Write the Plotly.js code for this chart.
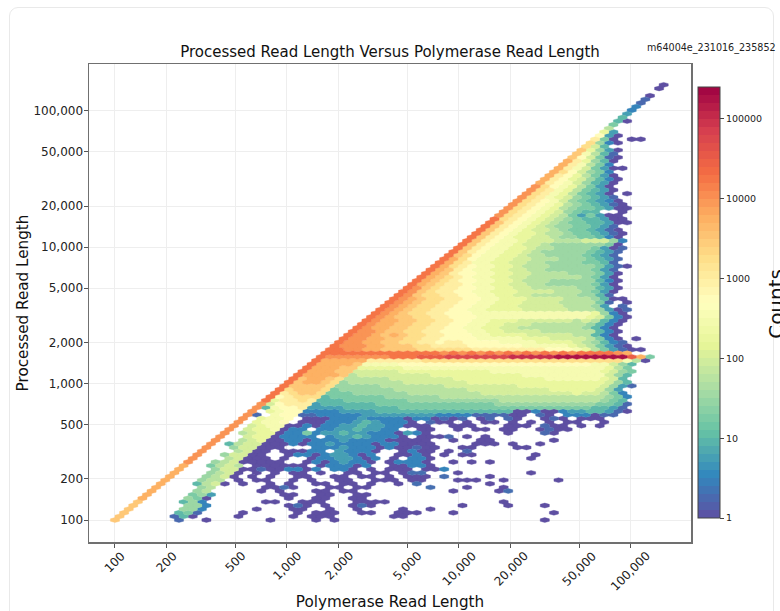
<!DOCTYPE html>
<html>
<head>
<meta charset="utf-8">
<script src="https://cdn.plot.ly/plotly-3.0.1.min.js"></script>
<style>
html,body{margin:0;padding:0;background:#fff;overflow:hidden;width:780px;height:611px}
#card{position:absolute;left:9px;top:7px;width:765px;height:720px;border:1.5px solid #e9e9e9;border-radius:9px;box-sizing:border-box}
#plot{position:absolute;left:0;top:0;width:780px;height:611px}
</style>
</head>
<body>
<div id="card"></div>
<div id="plot"></div>
<script>
// Hexbin rows, top row first. Row number = 120 - index.
// Each character is one bin on the row, starting at the diagonal: log10(count) = position in levelChars * 0.25.
const levelChars = "0123456789abcdefghijkl";
const binRows = [
"0","0","","0","1","1","2","2","3","4",
"40","5","7","93","b30","c50.00","d620","d84","e9630","ea741",
"eb8510","fc9640","fca752","fca85300","fdb8652","fcb97530","fcb986420","fcba86430","gdba97530","gdca975430",
"gdca975430.0","gdca9865431","gdcba8654320","gdcba97654310","gdcba976554300","gdcba986544..0","gdcba987535300","hdcba9876544300","hecba98765544300","hecba9876655431",
"hecba98876554310","hecba998776554310","hecba998876655420","hecbaa988877788862","hecbaa988766666650","hecbaa9987766665301","hecbaa9987666665431","hedbaa9987766665431","hfdbaa99887776665431","hfdcaa99887766665541",
"hfdcbaa998777666665310","hfecbaa99887766666531","hfecbbaa99887777666530","hfedcbaa99887777776530","hfedcbbaa99877766666420","hfedccbaa99887766666530","hgedccbbaa99887777766430","hgedccbbaa99988887776530","hgeddccbbaa9988777776641","hgfeddccbbaa99988887776400",
"hgfeddccbbaa9998888777751.0","hgfeddccbbaa9998888877763.1","hgfeddccbbaa9999888887776301","hgfeddccbbbaaaaaaaaaaaaa9620","hgfeeddccbbbaaaaaaaaaaaa98520","hgffeeddccbbaa99988888878742 0","hgffeeddccbbaa998887777776420","hgffeeddccbbaa998877777776420","hggfeeddccbbbaa998888777777420","hggfefeddccbbbaa99998888877420",
"hggffeeddccbbbbaaaaa99988887520.0","hggffeeddccbccbbbbaaaa9999876421","hgggffeeeddccccbbbbbbaaaaa9875310","hhggffeeeeddddddccccccccbbba9753100","hhhhhhhhhhhhhghghghghghghghghhhhgf","hggggggghhhiiijjjjjjjkkkkkllllllllif5","hfffffccccccdddddddddddddddddddddda70",
"hffffe"+"aaaa"+"bbbbbbbbbbbbbbbbbbbbb"+"aa"+"86"+"4",
"hfffee"+"9"+"9999"+"aaaaaaaaaaaaaaaaaaa"+"aaa"+"975",
"hfffee"+"8"+"8888"+"9999999999"+"aaaaaaaaa"+"aaa"+"986"+"5",
"hffffe"+"7"+"8888"+"8888999999"+"9999aaaaaa"+"aaa"+"864",
"heffed"+"7"+"7777"+"8888888999"+"9999999aaa"+"aaa"+"984",
"heffed"+"6"+"7777"+"7788888889"+"9999999999"+"999"+"9864",
"heeeed"+"6"+"6666"+"7777777888"+"8888899999"+"999"+"98631",
"hdeeed"+"5"+"6666"+"6677777777"+"8888888889"+"999"+"9863",
"hcdeed"+"5"+"5566"+"6666777777"+"7788888888"+"889"+"88752",
"hbcddd"+"4"+"5555"+"5566666677"+"7777777777"+"777"+"777652",
"h9ccdc"+"4"+"4455"+"5555566666"+"6666677777"+"777"+"777654",
"g8bccc"+"3"+"4444"+"4455555555"+"5555566666"+"666"+"666554"+"1",
"g4abbc"+"3"+"3334"+"4444455555"+"5555555555"+"555"+"555443"+"1",
"g.9abb"+"2"+"2223"+"3334444444"+"4444444400"+"200"+"233443"+"10",
"g1.abb"+"1"+"1222"+"2233333333"+"2222111100"+".10"+".222011",
"g.9aab"+".000222322220220"+"101.01.10..010.000",
"g.9aab"+".0002223432220"+".100.0.00.0.0.0.00..0",
"g.89aa"+"0020223343322000"+"..000...000.100.0.0",
"g.899a"+"022.223343322"+"..00..0.00.00..0100",
"g.7899"+"0225233433222"+"0320"+"........0...10",
"g..899"+"02222.233432220"+".0001.0.0",
"g..789"+"002202223222200000"+"..0..00......0",
"g.4788"+"0002022322220220000"+"....000.0..0",
"g..688"+"000...22232220200100"+"..00....00",
"g...78"+"00.00022.32220..0200.0.1",
"g..688"+"00..0220233202..0020.0.00"+"......0",
"g...78"+"000.0..02233202.0.220"+"..........0",
"g..678"+"0"+"0000..02023220.02220..0.0.0",
"f..578"+"7"+".000000.022202..00220",
"f...68"+"8"+"001002202.220.0.000.002",
"f...678","f...678","f...677",
"f...478","f....67","f....67","f....563","f....650","e....462","e.....662","e.....662","e.....451","e.....140",
"e......1"
];
// Isolated bins on the low-count rows, by row number: column lists.
const singleBins = {
13:[27,31,35,39,41,45,51,53,57,59,63,75,91],
12:[26,30,34,40,42,48,50,54,56,60,64,66,68,82],
11:[27,31,33,39,43,49,51,57,59,61,65,67,75,77,79,85,97],
10:[24,28,34,38,44,46,50,52,56,62,82],
9:[33,35,39,47,49,53,55,77,85],
8:[32,36,44,46,50,52,74,84],
7:[37,39,45,47,53,55],
6:[38,44,46,52,54],
5:[33,35,41,43,45,53,55,57,59,85],
4:[38,42,46,52,56,76,86,94],
3:[31,39,41,47,53,63,69],
2:[28,40,44,46,48,54,56,62,64,66,74,96],
1:[27,39,43,45,47,61,63],
0:[20,34,44,48,94]
};
const pairBins = {13:[65,67],12:[72],10:[66],9:[37,69],8:[86],4:[40,54]};
const xTickVals = [100,200,500,1000,2000,5000,10000,20000,50000,100000];
const yTickVals = [100,200,500,1000,2000,5000,10000,20000,50000,100000];
const tickText = ["100","200","500","1,000","2,000","5,000","10,000","20,000","50,000","100,000"];
const countTicks = [0,1,2,3,4,5];
const countTickText = ["1","10","100","1000","10000","100000"];
const spectral = ["#5e4fa2","#3288bd","#66c2a5","#abdda4","#e6f598","#ffffbf","#fee08b","#fdae61","#f46d43","#d53e4f","#9e0142"];
const countMax = 5.4;
const binWidth = 0.05317;

function rgb(h){return [1,3,5].map(i=>parseInt(h.substr(i,2),16));}
function colorAt(v){
  const t=Math.min(1,Math.max(0,v/countMax))*(spectral.length-1);
  const i=Math.min(spectral.length-2,Math.floor(t)),f=t-i;
  const a=rgb(spectral[i]),b=rgb(spectral[i+1]);
  return "rgb("+a.map((x,j)=>Math.round(x+(b[j]-x)*f)).join(",")+")";
}
const groups={};
function addBin(c,r,v){
  if(((c-r)%2+2)%2) c+=1;
  (groups[v]=groups[v]||[]).push([c,r]);
}
binRows.forEach((row,idx)=>{
  const r=120-idx;
  const cells=row.replace(/ /g,"");
  for(let k=0;k<cells.length;k++){
    const n=levelChars.indexOf(cells[k]);
    if(n>=0) addBin(r+2*k,r,n*0.25);
  }
});
Object.keys(singleBins).forEach(r=>singleBins[r].forEach(c=>addBin(c,+r,0)));
Object.keys(pairBins).forEach(r=>pairBins[r].forEach(c=>addBin(c,+r,0.3)));

const hexShape=[[0.5,-1/6],[0.5,1/6],[0,1/3],[-0.5,1/6],[-0.5,-1/6],[0,-1/3],[0.5,-1/6]];
const traces=Object.keys(groups).map(Number).sort((a,b)=>a-b).map(v=>{
  const xs=[],ys=[];
  groups[v].forEach(([c,r])=>{
    const lx=2+c*binWidth/2, ly=2+r*binWidth/2;
    hexShape.forEach(([dx,dy])=>{xs.push(Math.pow(10,lx+dx*binWidth));ys.push(Math.pow(10,ly+dy*binWidth));});
    xs.push(null);ys.push(null);
  });
  const col=colorAt(v);
  return {type:"scatter",mode:"lines",x:xs,y:ys,fill:"toself",fillcolor:col,
    line:{color:col,width:0.4,simplify:false},hoverinfo:"skip",showlegend:false};
});
const stepped=[];
for(let i=0;i<54;i++){const c=colorAt((i+0.5)/54*countMax);stepped.push([i/54,c],[(i+1)/54,c]);}
traces.push({type:"scatter",mode:"markers",x:[100],y:[100],hoverinfo:"skip",showlegend:false,
  marker:{size:1,opacity:0,color:[0],cmin:0,cmax:countMax,colorscale:stepped,showscale:true,
    colorbar:{thicknessmode:"pixels",thickness:22,lenmode:"pixels",len:431,x:1.0116,xanchor:"left",xpad:0,
      y:0.0502,yanchor:"bottom",ypad:0,tickmode:"array",tickvals:countTicks,ticktext:countTickText,
      ticks:"outside",ticklen:4,tickwidth:1,tickcolor:"#444",tickfont:{family:"DejaVu Sans",size:9.5,color:"#222"},
      outlinewidth:1,outlinecolor:"#444",borderwidth:0}}});

const axisCommon={type:"log",tickmode:"array",showgrid:true,gridcolor:"#eeeeee",gridwidth:1,
  zeroline:false,showline:true,mirror:true,linecolor:"#707070",linewidth:1.5,ticks:"outside",ticklen:4,tickwidth:1,tickcolor:"#555",
  tickfont:{family:"DejaVu Sans",size:12,color:"#222"}};
const xTickLabels=xTickVals.map((v,i)=>({xref:"x",yref:"paper",x:Math.log10(v),y:0,yshift:-4,text:tickText[i],textangle:-45,showarrow:false,
  xanchor:"center",yanchor:"top",font:{family:"DejaVu Sans",size:12,color:"#222"}}));
const layout={width:780,height:611,autosize:false,paper_bgcolor:"rgba(0,0,0,0)",plot_bgcolor:"#fff",
  margin:{l:89,r:89,t:64,b:69,pad:0,autoexpand:false},showlegend:false,
  font:{family:"DejaVu Sans",color:"#111"},
  title:{text:"Processed Read Length Versus Polymerase Read Length",font:{family:"DejaVu Sans",size:15,color:"#111"},x:0.5,xanchor:"center",xref:"paper",y:0.915,yanchor:"middle",yref:"container"},
  xaxis:Object.assign({},axisCommon,{range:[1.849,5.349],tickvals:xTickVals,ticktext:tickText,showticklabels:false,
    title:{text:"Polymerase Read Length",font:{family:"DejaVu Sans",size:15.2,color:"#111"},standoff:50}}),
  yaxis:Object.assign({},axisCommon,{range:[1.839,5.343],tickvals:yTickVals,ticktext:tickText,ticklabelstandoff:-2,
    title:{text:"Processed Read Length",font:{family:"DejaVu Sans",size:15.2,color:"#111"},standoff:1}}),
  annotations:[
    {xref:"paper",yref:"paper",x:1.141,y:0.498,text:"Counts",textangle:-90,showarrow:false,xanchor:"center",yanchor:"middle",font:{family:"DejaVu Sans",size:20,color:"#111"}},
    {xref:"paper",yref:"paper",x:1.145,y:1.0335,text:"m64004e_231016_235852",showarrow:false,xanchor:"right",yanchor:"middle",font:{family:"DejaVu Sans",size:9.6,color:"#222"}}
  ].concat(xTickLabels)};
Plotly.newPlot("plot",traces,layout,{staticPlot:true,displayModeBar:false});
</script>
</body>
</html>
